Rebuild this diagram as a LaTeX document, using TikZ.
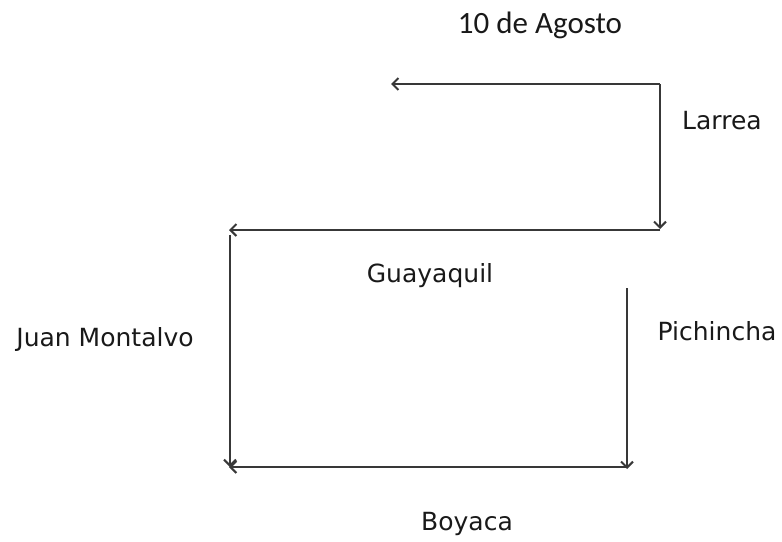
\documentclass[tikz,border=0pt]{standalone}
\usepackage{fontspec}
\setmainfont{DejaVu Sans}
\newfontfamily\calib{Carlito}
\usetikzlibrary{arrows.meta}
\begin{document}
\begin{tikzpicture}[x=1pt,y=-1pt,
  street/.style={draw=black!78,line width=2.2pt,-{Straight Barb[length=6pt,width=12pt,line width=2pt]}},
  lbl/.style={font=\fontsize{25}{27}\selectfont,text=black!90,inner sep=0pt,anchor=base}]
\useasboundingbox (0,0) rectangle (782,541);
% corners
\coordinate (c1) at (660,84);
\coordinate (c1end) at (391,84);
\coordinate (c2top) at (660,84);
\coordinate (c2bot) at (660,229);
\coordinate (c2) at (660,230);
\coordinate (c2end) at (229,230);
\coordinate (c3) at (230,235);
\coordinate (c3end) at (230,467);
\coordinate (c4) at (628,467);
\coordinate (c4end) at (229,467);
\coordinate (c5) at (627,288);
\coordinate (c5end) at (627,469);
% streets
\draw[street] (c1) -- (c1end);
\draw[street] (c2top) -- (c2bot);
\draw[street] (c2) -- (c2end);
\draw[street] (c3) -- (c3end);
\draw[street] (c4) -- (c4end);
\draw[street] (c5) -- (c5end);
% labels
\node[lbl,font=\calib\fontsize{31}{33}\selectfont] (agosto) at (540,33) {10 de Agosto};
\node[lbl] (larrea) at (722,129) {Larrea};
\node[lbl] (guayaquil) at (430,282) {Guayaquil};
\node[lbl] (montalvo) at (105,346) {Juan Montalvo};
\node[lbl] (pichincha) at (717,340) {Pichincha};
\node[lbl] (boyaca) at (467,530) {Boyaca};
\end{tikzpicture}
\end{document}
